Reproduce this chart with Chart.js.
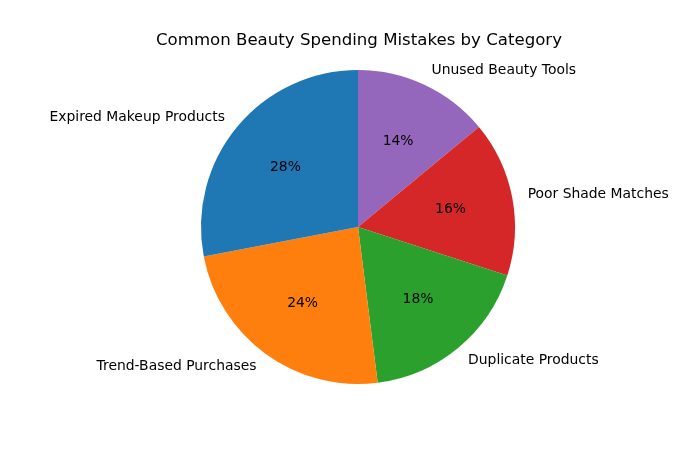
<!DOCTYPE html>
<html>
<head>
<meta charset="utf-8">
<script src="https://cdn.jsdelivr.net/npm/chart.js@4"></script>
<style>
  html, body { margin: 0; padding: 0; background: #fff; }
  #wrap { width: 700px; height: 450px; position: relative; }
</style>
</head>
<body>
<div id="wrap"><canvas id="my-chart"></canvas></div>
<script>
'use strict';

// chart data (matplotlib order, counterclockwise from the top)
let categories = ['Expired Makeup Products', 'Trend-Based Purchases', 'Duplicate Products', 'Poor Shade Matches', 'Unused Beauty Tools'];
let shares = [28, 24, 18, 16, 14];
let colors = ['#1f77b4', '#ff7f0e', '#2ca02c', '#d62728', '#9467bd'];
let chartTitle = 'Common Beauty Spending Mistakes by Category';

// chart.js goes clockwise, so flip the order to get the same layout
let labelsCw = categories.slice().reverse();
let sharesCw = shares.slice().reverse();
let colorsCw = colors.slice().reverse();

const fontName = '"DejaVu Sans", sans-serif';

// draws the outside labels, the percentages and the title
const pieLabels = {
  id: 'pieLabels',
  afterDatasetsDraw(chart) {
    const ctx = chart.ctx;
    const meta = chart.getDatasetMeta(0);
    const data = chart.data.datasets[0].data;
    let total = data.reduce((a, b) => a + b, 0);
    ctx.save();
    ctx.fillStyle = '#000';
    ctx.textBaseline = 'middle';
    ctx.font = '13.9px ' + fontName;
    meta.data.forEach((arc, i) => {
      let mid = (arc.startAngle + arc.endAngle) / 2;
      let r = arc.outerRadius;
      let cx = Math.cos(mid), cy = Math.sin(mid);
      ctx.textAlign = cx >= 0 ? 'left' : 'right';
      ctx.fillText(chart.data.labels[i], arc.x + cx * r * 1.1, arc.y + cy * r * 1.1);
      ctx.textAlign = 'center';
      let pct = Math.round(data[i] / total * 100) + '%';
      ctx.fillText(pct, arc.x + cx * r * 0.6, arc.y + cy * r * 0.6);
    });
    ctx.font = '16.6px ' + fontName;
    ctx.textAlign = 'center';
    ctx.fillText(chartTitle, 359, 41);
    ctx.restore();
  }
};

const ctx = document.getElementById('my-chart').getContext('2d');

const myChart = new Chart(ctx, {
  type: 'pie',
  data: {
    labels: labelsCw,
    datasets: [{
      data: sharesCw,
      backgroundColor: colorsCw,
      borderWidth: 0
    }]
  },
  options: {
    responsive: true,
    maintainAspectRatio: false,
    animation: false,
    layout: {
      padding: { left: 201, right: 185, top: 70, bottom: 66 }
    },
    plugins: {
      legend: { display: false },
      tooltip: { enabled: false },
      title: { display: false }
    }
  },
  plugins: [pieLabels]
});
</script>
</body>
</html>
